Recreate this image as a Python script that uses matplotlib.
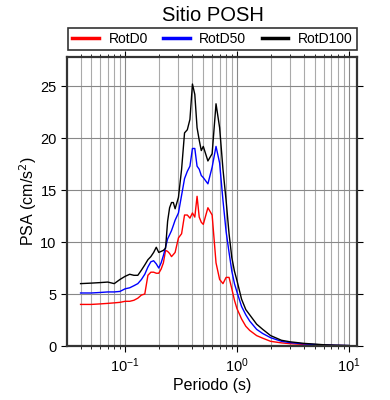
import numpy as np
import matplotlib.pyplot as plt
from matplotlib.ticker import LogLocator, NullFormatter

plt.rcParams['font.family'] = ['Liberation Sans', 'DejaVu Sans']

# periods (s)
periodo = [0.04, 0.05, 0.06, 0.07, 0.08, 0.09, 0.1, 0.11, 0.12, 0.13, 0.14, 0.15,
           0.16, 0.17, 0.18, 0.19, 0.20, 0.21, 0.22, 0.23, 0.24, 0.25, 0.26, 0.27,
           0.28, 0.30, 0.32, 0.34, 0.36, 0.38, 0.40, 0.42, 0.44, 0.46, 0.48, 0.50,
           0.55, 0.60, 0.65, 0.70, 0.75, 0.80, 0.85, 0.90, 0.95, 1.0, 1.1, 1.2,
           1.3, 1.5, 1.7, 2.0, 2.5, 3.0, 4.0, 5.0, 6.0, 7.5, 10.0]

rotd0 = [4.0, 4.0, 4.05, 4.1, 4.15, 4.2, 4.3, 4.3, 4.4, 4.6, 4.9, 5.0,
         6.8, 7.1, 7.1, 7.0, 7.0, 7.4, 8.0, 9.2, 9.1, 8.9, 8.6, 8.8,
         9.0, 10.4, 10.8, 12.6, 12.6, 12.3, 12.8, 12.4, 14.4, 12.4, 11.9, 11.7,
         13.3, 12.6, 8.0, 6.4, 6.0, 6.6, 6.6, 5.5, 4.4, 3.6, 2.6, 1.9,
         1.5, 1.0, 0.75, 0.45, 0.3, 0.22, 0.15, 0.1, 0.08, 0.05, 0.03]

rotd50 = [5.1, 5.1, 5.15, 5.2, 5.2, 5.25, 5.5, 5.6, 5.8, 6.0, 6.4, 6.9,
          7.6, 8.1, 8.2, 7.9, 7.5, 8.0, 8.7, 9.5, 10.3, 10.7, 11.1, 11.6,
          12.1, 12.8, 14.5, 16.1, 16.8, 17.3, 19.0, 19.0, 17.3, 17.0, 16.4, 16.2,
          15.6, 17.2, 19.2, 17.6, 14.0, 11.0, 9.0, 7.2, 6.0, 5.2, 3.8, 3.0,
          2.4, 1.6, 1.2, 0.8, 0.45, 0.32, 0.2, 0.14, 0.1, 0.07, 0.04]

rotd100 = [6.0, 6.05, 6.1, 6.15, 6.0, 6.4, 6.7, 6.9, 6.8, 6.8, 7.3, 7.8,
           8.3, 8.6, 9.0, 9.5, 9.0, 9.1, 9.2, 9.4, 12.0, 13.3, 13.8, 13.8,
           13.2, 14.3, 17.0, 20.5, 20.8, 21.8, 25.2, 24.2, 21.0, 19.8, 18.8, 19.2,
           17.8, 18.5, 23.3, 21.0, 17.0, 14.0, 10.8, 8.5, 7.2, 6.3, 4.5, 3.5,
           3.0, 2.1, 1.6, 1.0, 0.55, 0.4, 0.25, 0.18, 0.12, 0.08, 0.05]

fig = plt.figure(figsize=(3.9, 4.0), dpi=100)
ax = fig.add_axes([0.172, 0.135, 0.743, 0.7225])

ax.plot(periodo, rotd0, color='red', lw=1.0, label='RotD0')
ax.plot(periodo, rotd50, color='blue', lw=1.0, label='RotD50')
ax.plot(periodo, rotd100, color='black', lw=1.0, label='RotD100')

ax.set_xscale('log')
ax.set_xlim(0.0303, 11.8)
ax.set_ylim(0, 27.8)
ax.set_yticks([0, 5, 10, 15, 20, 25])
ax.xaxis.set_minor_locator(LogLocator(base=10, subs=np.arange(2, 10)))
ax.xaxis.set_minor_formatter(NullFormatter())

ax.grid(True, which='major', color='#888888', lw=0.8)
ax.grid(True, which='minor', axis='x', color='#aaaaaa', lw=0.8)
ax.set_axisbelow(True)

for s in ax.spines.values():
    s.set_linewidth(1.6)
    s.set_color('#333333')
ax.tick_params(which='both', direction='out', top=True, right=True, labelsize=10.5)
ax.tick_params(which='major', length=4)
ax.tick_params(which='minor', length=2.5)

ax.set_xlabel('Periodo (s)', fontsize=11.5, labelpad=2)
ax.set_ylabel('PSA (cm/s$^2$)', fontsize=11.5, labelpad=1)
fig.text(0.545, 0.962, 'Sitio POSH', ha='center', va='center', fontsize=14.5)

leg = ax.legend(loc='lower center', bbox_to_anchor=(0.502, 1.024), ncol=3,
                frameon=True, fancybox=False, fontsize=10,
                handlelength=1.9, borderpad=0.3, handletextpad=0.7,
                columnspacing=1.1, borderaxespad=0)
leg.get_frame().set_edgecolor('black')
leg.get_frame().set_linewidth(1.2)
for h in leg.get_lines():
    h.set_linewidth(2.5)

fig.savefig('out.png', dpi=100)
